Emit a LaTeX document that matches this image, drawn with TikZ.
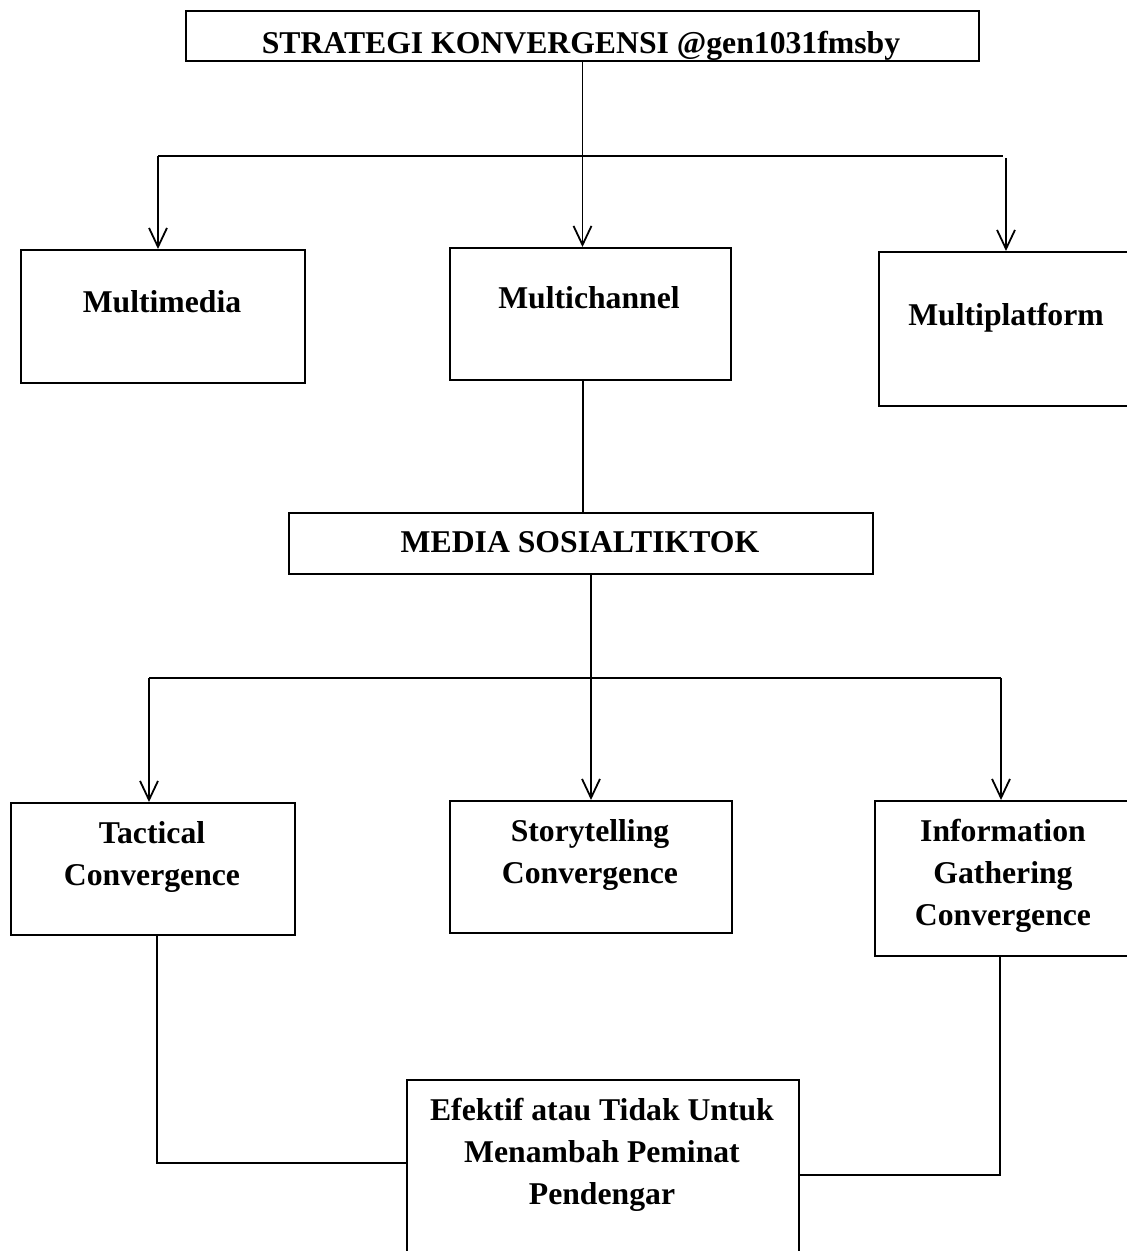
\documentclass[tikz,border=0pt]{standalone}
\usepackage{fontspec}
\setmainfont{Liberation Serif}
\usetikzlibrary{positioning, arrows.meta}

\begin{document}
\begin{tikzpicture}[
    x=1pt, y=-1pt,
    font=\bfseries\fontsize{31.7}{42}\selectfont,
    box/.style={
        rectangle,
        draw,
        line width=2pt,
        inner sep=0pt,
        anchor=north west
    },
    txt/.style={
        align=center,
        anchor=base,
        inner sep=0pt
    },
    line/.style={line width=2pt},
    arrow/.style={line width=1.8pt, -{Straight Barb[length=19pt, width=18pt]}}
]

\useasboundingbox (0,0) rectangle (1127,1251);
\clip (0,0) rectangle (1127,1251);

% Boxes
\node[box, minimum width=793, minimum height=50] (title) at (185,10) {};
\node[box, minimum width=284, minimum height=133] (mmedia) at (20,249) {};
\node[box, minimum width=281, minimum height=132] (mchan) at (449,247) {};
\node[box, minimum width=300, minimum height=154] (mplat) at (878,251) {};
\node[box, minimum width=584, minimum height=61] (sosmed) at (288,512) {};
\node[box, minimum width=284, minimum height=132] (tact) at (10,802) {};
\node[box, minimum width=282, minimum height=132] (story) at (449,800) {};
\node[box, minimum width=300, minimum height=155] (info) at (874,800) {};
\node[box, minimum width=392, minimum height=250] (efek) at (406,1079) {};

% Labels (base = last line)
\node[txt] (titlet) at (581,53) {STRATEGI KONVERGENSI @gen1031fmsby};
\node[txt] (mmediat) at (162,312) {Multimedia};
\node[txt] (mchant) at (589,308) {Multichannel};
\node[txt] (mplatt) at (1006,325) {Multiplatform};
\node[txt] (sosmedt) at (580,552) {MEDIA SOSIALTIKTOK};
\node[txt] (tactt) at (152,885) {Tactical\\Convergence};
\node[txt] (storyt) at (590,883) {Storytelling\\Convergence};
\node[txt] (infot) at (1003,925) {Information\\Gathering\\Convergence};
\node[txt] (efekt) at (602,1204) {Efektif atau Tidak Untuk\\Menambah Peminat\\Pendengar};

% Junctions
\coordinate (hl) at (158,156);
\coordinate (hr) at (1003,156);
\coordinate (pr) at (1006,158);
\coordinate (bl) at (149,678);
\coordinate (br) at (1001,678);
\coordinate (jl) at (157,1163);
\coordinate (jr) at (1000,1175);

% Top branch
\draw[arrow] (title.south) -- (title.south |- mchan.north);
\draw[line] (hl) -- (hr);
\draw[arrow] (hl) -- (hl |- mmedia.north);
\draw[arrow] (pr) -- (pr |- mplat.north);

% Middle
\draw[line] (title.south |- mchan.south) -- (title.south |- sosmed.north);
\draw[arrow] (story.north |- sosmed.south) -- (story.north);
\draw[line] (bl) -- (br);
\draw[arrow] (bl) -- (bl |- tact.north);
\draw[arrow] (br) -- (br |- info.north);

% Bottom
\draw[line] (jl |- tact.south) |- (jl -| efek.west);
\draw[line] (jr |- info.south) |- (jr -| efek.east);

\end{tikzpicture}
\end{document}
